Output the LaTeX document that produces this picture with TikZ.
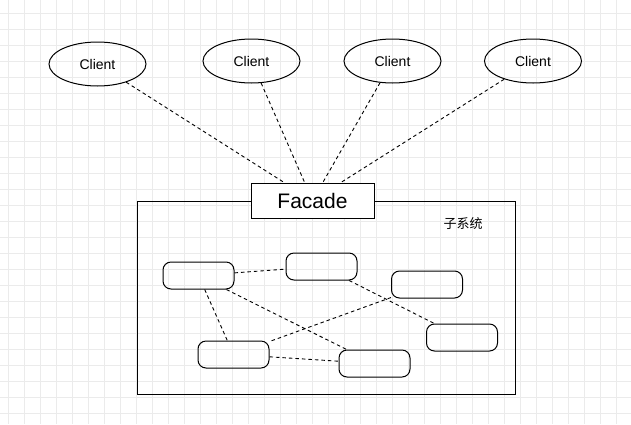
\documentclass[tikz,border=0pt]{standalone}
\usepackage{fontspec}
\setmainfont{Liberation Sans}
\newfontfamily\cjk{Noto Sans CJK SC}
\usetikzlibrary{shapes.geometric}

\tikzset{
  client/.style={ellipse, draw, line width=1pt, minimum width=97pt, minimum height=44pt, font=\fontsize{14}{16}\selectfont},
  part/.style={draw, rounded corners=8pt, line width=1pt, minimum width=71pt, minimum height=27pt},
  link/.style={dash pattern=on 3.5pt off 3pt, line width=0.9pt},
  gridline/.style={draw=black!8, line width=0.8pt}
}

\begin{document}
\begin{tikzpicture}[x=1pt,y=-1pt]
  \useasboundingbox (0,0) rectangle (631,424);

  % Background grid
  \foreach \gx in {8.5,24.5,...,631} \draw[gridline] (\gx,0) -- (\gx,424);
  \foreach \gy in {13,29,...,424} \draw[gridline] (0,\gy) -- (631,\gy);

  % Clients
  \node[client] (client1) at (97.5,64) {Client};
  \node[client] (client2) at (251.5,61) {Client};
  \node[client] (client3) at (392.5,61) {Client};
  \node[client] (client4) at (533,61) {Client};

  % Subsystem
  \node[draw, line width=1pt, minimum width=378pt, minimum height=193pt, inner sep=0pt] (subsys) at (326,297.5) {};
  \node[font=\cjk\fontsize{13}{15}\selectfont] (subsyslabel) at (463,224) {子系统};

  % Facade
  \node[draw, fill=white, line width=1pt, minimum width=123pt, minimum height=35pt, font=\fontsize{21}{24}\selectfont] (facade) at (312.5,200.5) {Facade};

  % Client links
  \draw[link] (client1) -- (facade);
  \draw[link] (client2) -- (facade);
  \draw[link] (client3) -- (facade);
  \draw[link] (client4) -- (facade);

  % Parts of the subsystem
  \node[part] (s1) at (198.5,275.5) {};
  \node[part] (s2) at (321.5,266.5) {};
  \node[part] (s3) at (427,284.5) {};
  \node[part] (s4) at (462,337.5) {};
  \node[part] (s5) at (233.5,354.5) {};
  \node[part] (s6) at (374.5,363.5) {};

  % Part links
  \draw[link] (s1) -- (s2);
  \draw[link] (s1) -- (s5);
  \draw[link] (s1) -- (s6);
  \draw[link] (s2) -- (s4);
  \draw[link] (s3) -- (s5);
  \draw[link] (s5) -- (s6);

\end{tikzpicture}
\end{document}
